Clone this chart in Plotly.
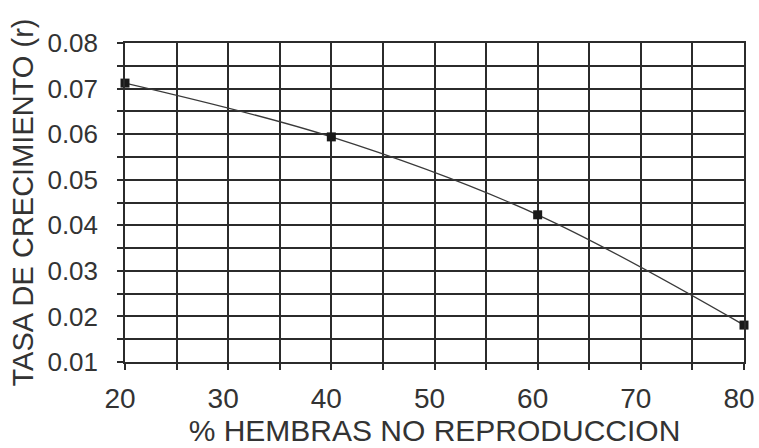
import plotly.graph_objects as go

x_vals = [20, 40, 60, 80]
y_vals = [0.0712, 0.0594, 0.0423, 0.0181]
x_ticks = [20, 30, 40, 50, 60, 70, 80]
y_ticks = [0.01, 0.02, 0.03, 0.04, 0.05, 0.06, 0.07, 0.08]
y_tick_text = ["0.01", "0.02", "0.03", "0.04", "0.05", "0.06", "0.07", "0.08"]

grid_color = "#2b2b2b"
text_color = "#333333"
font_family = "Liberation Sans, Arial, sans-serif"

fig = go.Figure()
fig.add_trace(go.Scatter(
    x=x_vals, y=y_vals, mode="lines+markers",
    line=dict(shape="spline", color="#3a3a3a", width=1.3),
    marker=dict(symbol="square", size=9, color="#1a1a1a"),
    cliponaxis=False, showlegend=False,
))

axis_common = dict(
    showgrid=True, gridcolor=grid_color, gridwidth=1.5,
    ticks="outside", ticklen=6, tickcolor=grid_color, tickwidth=1.5,
    showline=True, linecolor=grid_color, linewidth=1.5, mirror=True,
    zeroline=False, automargin=False, ticklabeloverflow="allow",
)

fig.update_xaxes(
    range=[20, 80], tickvals=x_ticks,
    minor=dict(dtick=5, tick0=20, showgrid=True, gridcolor=grid_color, gridwidth=1.5,
               ticks="outside", ticklen=6, tickcolor=grid_color, tickwidth=1.5),
    tickfont=dict(family=font_family, size=28, color=text_color),
    ticklabelshift=-5,
    title=dict(text="% HEMBRAS NO REPRODUCCION",
               font=dict(family=font_family, size=30, color=text_color), standoff=3),
    ticklabelstandoff=5,
    **axis_common,
)
fig.update_yaxes(
    range=[0.01, 0.08], tickvals=y_ticks, ticktext=y_tick_text,
    minor=dict(dtick=0.005, tick0=0.01, showgrid=True, gridcolor=grid_color, gridwidth=1.5,
               ticks="outside", ticklen=6, tickcolor=grid_color, tickwidth=1.5),
    tickfont=dict(family=font_family, size=26, color=text_color),
    title=dict(text="TASA DE CRECIMIENTO (r)",
               font=dict(family=font_family, size=29, color=text_color), standoff=5),
    ticklabelstandoff=14,
    **axis_common,
)

fig.update_layout(
    width=759, height=448,
    margin=dict(l=125, r=15, t=43, b=86),
    paper_bgcolor="white", plot_bgcolor="white",
)

fig.write_html("out.html")
